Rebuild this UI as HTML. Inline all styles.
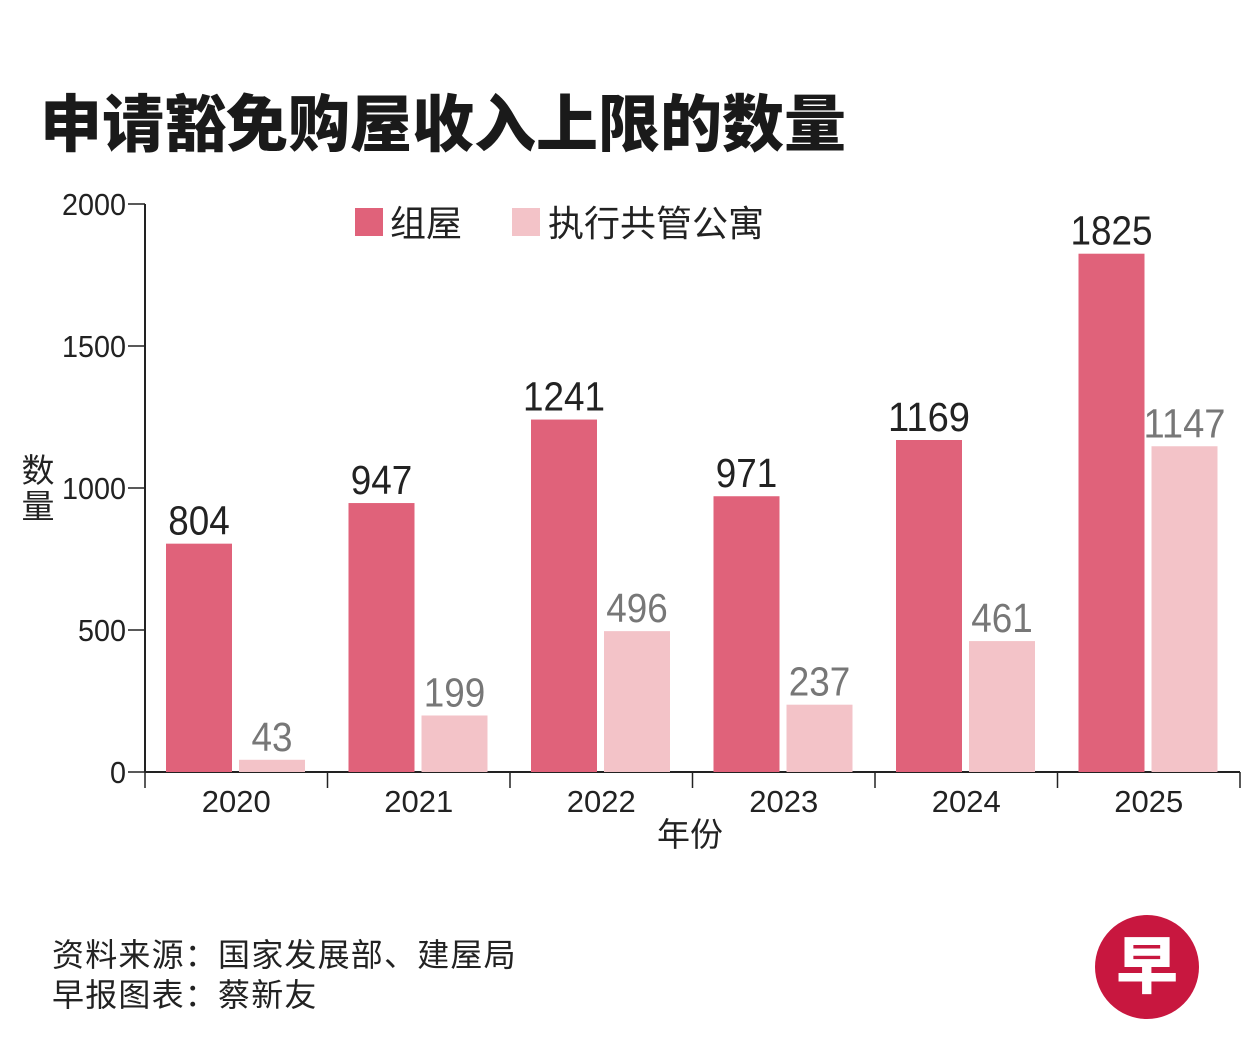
<!DOCTYPE html>
<html><head><meta charset="utf-8"><style>
body{margin:0;background:#fff}
svg{display:block}
.cjk{font-family:"Liberation Sans","Noto Sans CJK SC",sans-serif}
.num{font-family:"Liberation Sans Narrow","Liberation Sans",sans-serif}
</style></head><body>
<svg id="chart" width="1251" height="1059" viewBox="0 0 1251 1059" xmlns="http://www.w3.org/2000/svg">
<text x="40" y="146" class="cjk" font-size="62" font-weight="900" fill="#1a1a1a">申请豁免购屋收入上限的数量</text>
<g>
<rect x="355" y="208" width="28" height="28" fill="#e0627a"/>
<text x="390" y="236" class="cjk" font-size="36" fill="#222">组屋</text>
<rect x="512" y="208" width="28" height="28" fill="#f3c3c8"/>
<text x="548" y="236" class="cjk" font-size="36" fill="#222">执行共管公寓</text>
</g>
<text class="cjk" font-size="33" fill="#222" text-anchor="middle"><tspan x="38" y="482">数</tspan><tspan x="38" y="518">量</tspan></text>
<text x="690" y="846" class="cjk" font-size="33" fill="#222" text-anchor="middle">年份</text>
<g id="axes"></g>
<g id="bars"></g>
<text x="52" y="966" class="cjk" font-size="32" letter-spacing="1.2" fill="#222">资料来源：国家发展部、建屋局</text>
<text x="52" y="1006" class="cjk" font-size="32" letter-spacing="1.2" fill="#222">早报图表：蔡新友</text>
<g>
<circle cx="1147" cy="967" r="52" fill="#c8173f"/>
<text x="1147" y="988" class="cjk" font-size="62" font-weight="900" fill="#fff" text-anchor="middle">早</text>
</g>
</svg>
<script>
const years=["2020","2021","2022","2023","2024","2025"];
const hdbValues=[804,947,1241,971,1169,1825];
const ecValues=[43,199,496,237,461,1147];
const yTicks=[0,500,1000,1500,2000];
const NS="http://www.w3.org/2000/svg";
const x0=145,x1=1240,yBase=772,yTop=204,yMax=2000;
const bw=(x1-x0)/years.length;
function yScale(v){return yBase-(v/yMax)*(yBase-yTop);}
function xBand(i){return x0+i*bw;}
function mk(tag,attrs,parent){const e=document.createElementNS(NS,tag);for(const k in attrs)e.setAttribute(k,attrs[k]);parent.appendChild(e);return e;}
const axes=document.getElementById('axes'),bars=document.getElementById('bars');
let l=mk('line',{x1:x0,y1:yTop,x2:x0,y2:yBase,stroke:'#222','stroke-width':2},axes);


l=mk('line',{x1:x0,y1:yBase,x2:x1,y2:yBase,stroke:'#222','stroke-width':2},axes);


yTicks.forEach(v=>{const y=yScale(v);
 const t=mk('line',{x1:128,y1:y,x2:x0,y2:y,stroke:'#222','stroke-width':1.5},axes);
 
 
 const s=String(v);
 const tx=mk('text',{x:126,y:y+11,'text-anchor':'end','font-size':31,fill:'#222','class':'num',textLength:s.length*16,lengthAdjust:'spacingAndGlyphs'},axes);
 
 
 tx.textContent=s;});
for(let i=0;i<=years.length;i++){const t=mk('line',{x1:xBand(i),y1:yBase,x2:xBand(i),y2:yBase+16,stroke:'#222','stroke-width':1.5},axes);
 
 }
years.forEach((yr,i)=>{const bx=xBand(i);
 const tx=mk('text',{x:bx+bw/2,y:812,'text-anchor':'middle','font-size':31,fill:'#222','font-family':'Liberation Sans, sans-serif'},axes);
 
 
 tx.textContent=yr;
 const pairs=[[hdbValues[i],'#e0627a','#222',21,'bar-hdb'],[ecValues[i],'#f3c3c8','#777',94,'bar-ec']];
 pairs.forEach(p=>{const y=yScale(p[0]);
  const r=mk('rect',{x:bx+p[3],y:y,width:66,height:yBase-y,fill:p[1]},bars);
  
  
  const s=String(p[0]);
  const lb=mk('text',{x:bx+p[3]+33,y:y-9,'text-anchor':'middle','font-size':41,fill:p[2],'class':'num',textLength:s.length*20.5,lengthAdjust:'spacingAndGlyphs'},bars);
  
  
  lb.textContent=s;});
});
</script>
</body></html>
